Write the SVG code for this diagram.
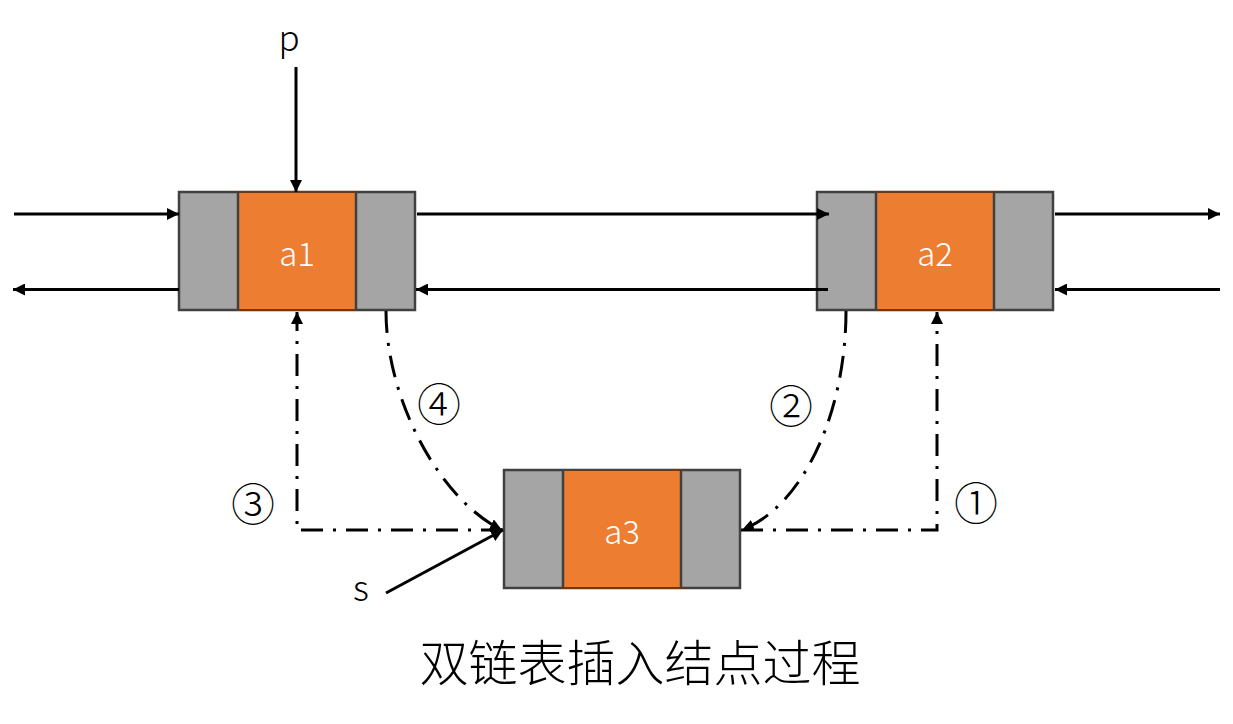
<svg xmlns="http://www.w3.org/2000/svg" width="1233" height="724" viewBox="0 0 1233 724">
<style>
.cell{fill:#A5A5A5;stroke:#404040;stroke-width:2.5}
.data{fill:#ED7D31;stroke:#6A3A14;stroke-width:2}
.div{stroke:#404040;stroke-width:2.5}
.lbl{font-family:"Noto Sans CJK SC","Liberation Sans",sans-serif;font-weight:300;font-size:33px;fill:#FFFFFF;text-anchor:middle}
.var{font-family:"Noto Sans CJK SC","Liberation Sans",sans-serif;font-weight:300;font-size:35px;fill:#000000;text-anchor:middle}
.num{font-family:"Noto Sans CJK SC",sans-serif;font-weight:300;font-size:44px;fill:#000000;text-anchor:middle;dominant-baseline:central}
.title{font-family:"Noto Sans CJK SC",sans-serif;font-weight:300;font-size:49px;fill:#000000;text-anchor:middle}
.solid{fill:none;stroke:#000000;stroke-width:3}
.dd{fill:none;stroke:#000000;stroke-width:3;stroke-dasharray:22 10 3 10}
</style>
<defs>
<marker id="arr" markerUnits="userSpaceOnUse" markerWidth="13" markerHeight="12" refX="12" refY="6" orient="auto">
<path d="M0,0 L12,6 L0,12 z" fill="#000000"/>
</marker>
</defs>
<rect width="1233" height="724" fill="#FFFFFF"/>

<g id="node-a1">
<rect class="cell" x="179" y="192" width="236" height="118"/>
<rect class="data" x="238" y="192" width="118" height="118"/>
<line class="div" x1="238" y1="192" x2="238" y2="310"/>
<line class="div" x1="356" y1="192" x2="356" y2="310"/>
<text class="lbl" x="297" y="266">a1</text>
</g>

<g id="node-a2">
<rect class="cell" x="817" y="192" width="236" height="118"/>
<rect class="data" x="876" y="192" width="118" height="118"/>
<line class="div" x1="876" y1="192" x2="876" y2="310"/>
<line class="div" x1="994" y1="192" x2="994" y2="310"/>
<text class="lbl" x="935" y="266">a2</text>
</g>

<g id="node-a3">
<rect class="cell" x="504" y="470" width="236" height="118"/>
<rect class="data" x="563" y="470" width="118" height="118"/>
<line class="div" x1="563" y1="470" x2="563" y2="588"/>
<line class="div" x1="681" y1="470" x2="681" y2="588"/>
<text class="lbl" x="622" y="544">a3</text>
</g>

<g id="connectors">
<line class="solid" x1="14" y1="214" x2="179" y2="214" marker-end="url(#arr)"/>
<line class="solid" x1="179" y1="289.5" x2="13" y2="289.5" marker-end="url(#arr)"/>
<line class="solid" x1="296" y1="67" x2="296" y2="192" marker-end="url(#arr)"/>
<line class="solid" x1="417" y1="214" x2="829" y2="214" marker-end="url(#arr)"/>
<line class="solid" x1="828" y1="289.5" x2="416" y2="289.5" marker-end="url(#arr)"/>
<line class="solid" x1="1055" y1="214" x2="1220" y2="214" marker-end="url(#arr)"/>
<line class="solid" x1="1220" y1="289.5" x2="1055" y2="289.5" marker-end="url(#arr)"/>
<line class="solid" x1="386" y1="593" x2="503" y2="530" marker-end="url(#arr)"/>
<path class="dd" d="M741,530 L937,530 L937,312" marker-end="url(#arr)"/>
<path class="dd" d="M846,311 C846,410 805,505 742,530" marker-end="url(#arr)"/>
<path class="dd" d="M503,530 L297,530 L297,312" marker-end="url(#arr)"/>
<path class="dd" d="M386,311 C386,400 440,500 502,530" marker-end="url(#arr)"/>
</g>

<text class="var" x="289" y="51">p</text>
<text class="var" x="361" y="601">s</text>
<text class="num" x="976" y="501">①</text>
<text class="num" x="791" y="404">②</text>
<text class="num" x="253" y="502">③</text>
<text class="num" x="439" y="402">④</text>
<text class="title" x="640" y="681">双链表插入结点过程</text>
</svg>
